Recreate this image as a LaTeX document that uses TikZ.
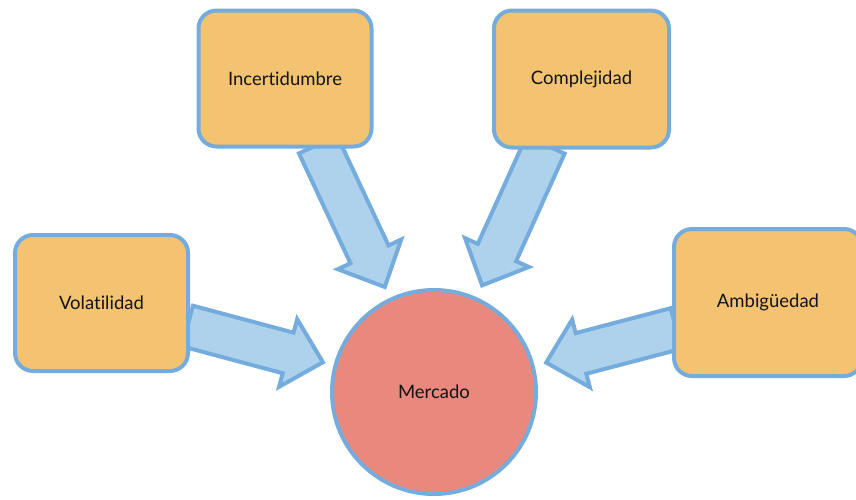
\documentclass[tikz,border=0pt]{standalone}
\usepackage{fontspec}
\setmainfont{Lato}[Ligatures={NoCommon,NoRare,NoDiscretionary}]
\usetikzlibrary{calc}
\definecolor{bordblue}{RGB}{116,172,221}
\definecolor{arrfill}{RGB}{175,210,236}
\definecolor{boxfill}{RGB}{244,195,114}
\definecolor{circfill}{RGB}{233,136,124}
\definecolor{txt}{RGB}{20,20,20}
\tikzset{
  factorbox/.style={draw=bordblue, line width=4pt, fill=boxfill, rounded corners=18pt,
    minimum width=173pt, minimum height=136pt, inner sep=0pt, text=txt,
    font=\fontsize{18.5}{22}\selectfont},
  marketnode/.style={circle, draw=bordblue, line width=4pt, fill=circfill,
    minimum size=204pt, inner sep=0pt, text=txt, font=\fontsize{18.5}{22}\selectfont},
  blockarrow/.style={draw=bordblue, line width=4pt, fill=arrfill, line join=miter, miter limit=10}
}
% #1 tail coordinate, #2 tip coordinate
\newcommand\blockarr[2]{%
  \coordinate (hb) at ($(#2)!36pt!(#1)$);
  \draw[blockarrow]
    ($(#1)!21pt!90:(#2)$) -- ($(hb)!21pt!90:(#2)$) -- ($(hb)!35pt!90:(#2)$) --
    (#2) --
    ($(hb)!35pt!-90:(#2)$) -- ($(hb)!21pt!-90:(#2)$) -- ($(#1)!21pt!-90:(#2)$) -- cycle;
}
\begin{document}
\begin{tikzpicture}[x=1pt,y=-1pt]
\useasboundingbox (0,0) rectangle (856,499);
% positions
\coordinate (incpos) at (285,78.5);
\coordinate (compos) at (581.5,79);
\coordinate (volpos) at (101.5,303);
\coordinate (ambpos) at (768,302.5);
\coordinate (merpos) at (434,392);
% arrow tails
\coordinate (t1) at ($(incpos)+(33,66)$);
\coordinate (t2) at ($(compos)+(-36,66)$);
\coordinate (t3) at ($(volpos)+(86,23)$);
\coordinate (t4) at ($(ambpos)+(-92,26)$);
% arrow tips, pointing to the centre of the market
\coordinate (h1) at ($(merpos)!116pt!(t1)$);
\coordinate (h2) at ($(merpos)!117pt!(t2)$);
\coordinate (h3) at ($(merpos)!115pt!(t3)$);
\coordinate (h4) at ($(merpos)!116pt!(t4)$);
\blockarr{t1}{h1}
\blockarr{t2}{h2}
\blockarr{t3}{h3}
\blockarr{t4}{h4}
% nodes
\node[factorbox] (inc) at (incpos) {Incertidumbre};
\node[factorbox, minimum width=175pt, minimum height=137pt] (comp) at (compos) {Complejidad};
\node[factorbox] (vol) at (volpos) {Volatilidad};
\node[factorbox, minimum width=188pt, minimum height=147pt] (amb) at (ambpos) {Ambigüedad};
\node[marketnode] (mer) at (merpos) {Mercado};
\end{tikzpicture}
\end{document}
